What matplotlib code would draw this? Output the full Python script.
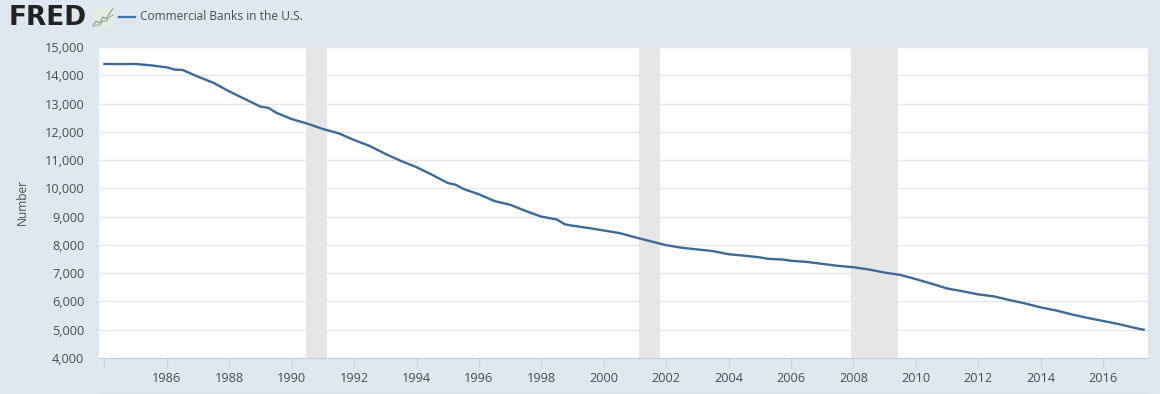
import matplotlib
matplotlib.use("Agg")
import matplotlib.pyplot as plt
from matplotlib.ticker import FuncFormatter

plt.rcParams['font.family'] = ['Open Sans', 'DejaVu Sans']

years = [1984.0, 1984.5, 1985.0, 1985.5, 1986.0, 1986.25, 1986.5, 1987.0, 1987.5, 1988.0,
         1988.5, 1989.0, 1989.25, 1989.5, 1990.0, 1990.5, 1991.0, 1991.5, 1992.0, 1992.5,
         1993.0, 1993.5, 1994.0, 1994.5, 1995.0, 1995.25, 1995.5, 1996.0, 1996.5, 1997.0,
         1997.5, 1998.0, 1998.5, 1998.75, 1999.0, 1999.5, 2000.0, 2000.5, 2001.0, 2001.5,
         2002.0, 2002.5, 2003.0, 2003.5, 2004.0, 2004.5, 2005.0, 2005.25, 2005.75, 2006.0,
         2006.5, 2007.0, 2007.5, 2008.0, 2008.5, 2009.0, 2009.5, 2010.0, 2010.5, 2011.0,
         2011.5, 2012.0, 2012.5, 2013.0, 2013.5, 2014.0, 2014.5, 2015.0, 2015.5, 2016.0,
         2016.5, 2017.0, 2017.3]
banks = [14400, 14395, 14400, 14350, 14280, 14200, 14190, 13950, 13730, 13430,
         13160, 12890, 12850, 12680, 12450, 12290, 12100, 11950, 11710, 11500,
         11220, 10970, 10750, 10480, 10190, 10130, 9980, 9790, 9550, 9420,
         9200, 9000, 8900, 8730, 8680, 8600, 8510, 8420, 8270, 8130,
         7990, 7900, 7840, 7780, 7670, 7620, 7560, 7510, 7480, 7440,
         7400, 7330, 7260, 7210, 7130, 7020, 6940, 6790, 6630, 6460,
         6360, 6250, 6180, 6050, 5930, 5790, 5680, 5540, 5420, 5310,
         5200, 5070, 5000]
recessions = [(1990.47, 1991.14), (2001.14, 2001.8), (2007.93, 2009.42)]
x_ticks = list(range(1984, 2017, 2))
x_labels = [''] + [str(y) for y in range(1986, 2017, 2)]
y_ticks = list(range(4000, 15001, 1000))

# small logo sparklines
logo_a = [1, 3, 2, 5, 4, 7, 9]
logo_b = [0, 1, 1, 3, 3, 5, 6]

BG = '#dfe7f0'
LINE = '#4572a7'
TEXT = '#4a4f55'

fig = plt.figure(figsize=(11.6, 3.94), dpi=100, facecolor=BG)
ax = fig.add_axes([99 / 1160, 1 - 358 / 394, (1148 - 99) / 1160, (358 - 47) / 394])
ax.set_facecolor('white')

for start, end in recessions:
    ax.axvspan(start, end, color='#e6e6e6', lw=0, zorder=2)
ax.grid(axis='y', color='#e6e6e6', lw=1, zorder=1)
ax.plot(years, banks, color='#3f6a98', lw=1.7, zorder=3)

ax.set_xlim(1983.826, 2017.44)
ax.set_ylim(4000, 15000)
ax.set_xticks(x_ticks, x_labels)
ax.set_yticks(y_ticks)
ax.yaxis.set_major_formatter(FuncFormatter(lambda v, p: f'{int(v):,}'))
ax.tick_params(axis='x', length=7, width=1, color='#c9d6e4', labelsize=9.2, labelcolor=TEXT, pad=3)
ax.tick_params(axis='y', length=0, labelsize=9.2, labelcolor=TEXT, pad=10.5)
for name in ['top', 'left', 'right']:
    ax.spines[name].set_visible(False)
ax.spines['bottom'].set_color('#c0d0e0')
ax.set_ylabel('Number', fontsize=8.6, color=TEXT)
ax.yaxis.set_label_coords(-0.0725 + 6 / 1049, 0.5)

# header: logo and legend
fig.text(9 / 1160, 1 - 18 / 394, 'FRED', fontsize=19, fontweight='bold', color='#222222',
         family=['DejaVu Sans'], va='center', ha='left')
logo = fig.add_axes([92 / 1160, 1 - 28 / 394, 22 / 1160, 20 / 394], facecolor='#e4ebe4')
logo.plot(logo_a, color='#7f9a86', lw=0.8)
logo.plot(logo_b, color='#9aaf9f', lw=0.8)
logo.set_xticks([])
logo.set_yticks([])
for name in logo.spines:
    logo.spines[name].set_visible(False)
fig.add_artist(plt.Line2D([119 / 1160, 135 / 1160], [1 - 17 / 394, 1 - 17 / 394], color=LINE, lw=1.6))
fig.text(140 / 1160, 1 - 17 / 394, 'Commercial Banks in the U.S.', fontsize=8.65, color=TEXT,
         va='center', ha='left')

# strip along the bottom edge
fig.add_artist(plt.Line2D([99 / 1160, 1148 / 1160], [1 - 393.5 / 394, 1 - 393.5 / 394], color='#c4c8cc', lw=1))

fig.savefig('out.png', dpi=100, facecolor=BG)
